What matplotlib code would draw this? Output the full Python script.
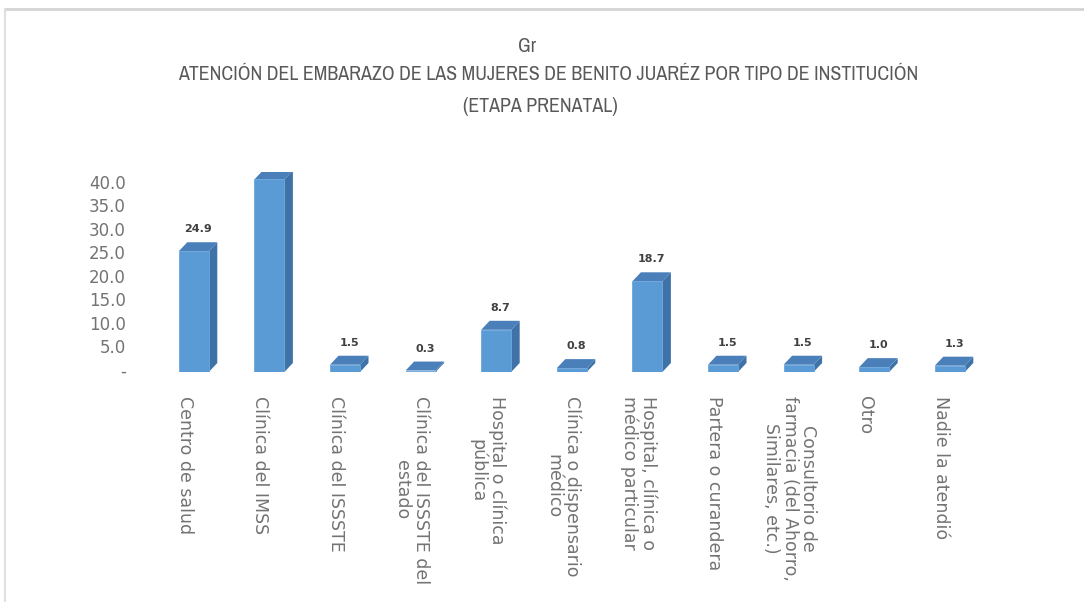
import matplotlib
matplotlib.use("Agg")
import matplotlib.pyplot as plt
from matplotlib import font_manager as fm
from matplotlib.patches import Polygon
from matplotlib.lines import Line2D

# datos (porcentaje)
categorias = [
    "Centro de salud",
    "Clínica del IMSS",
    "Clínica del ISSSTE",
    "Clínica del ISSSTE del\nestado",
    "Hospital o clínica\npública",
    "Clínica o dispensario\nmédico",
    "Hospital, clínica o\nmédico particular",
    "Partera o curandera",
    "Consultorio de\nfarmacia (del Ahorro,\nSimilares, etc.)",
    "Otro",
    "Nadie la atendió",
]
valores = [24.9, 39.7, 1.5, 0.3, 8.7, 0.8, 18.7, 1.5, 1.5, 1.0, 1.3]
ticks_y = [0, 5, 10, 15, 20, 25, 30, 35, 40]

# fuente estrecha (no cursiva) para el titulo, si hay
angosta = None
for f in fm.fontManager.ttflist:
    if ("Narrow" in f.name or "Condensed" in f.name) and f.style == "normal" \
            and f.weight in (400, "normal", "regular"):
        angosta = f.fname
        break
if angosta:
    fp_tit = fm.FontProperties(fname=angosta, size=14.3)
else:
    fp_tit = fm.FontProperties(family="DejaVu Sans", size=11.7)

W, H = 1084, 602
fig = plt.figure(figsize=(W / 100, H / 100), dpi=100)
fig.patch.set_facecolor("white")

# marco gris de la imagen
fig.add_artist(Line2D([5 / W, 1], [1 - 9 / H, 1 - 9 / H], color="#d4d4d4", lw=2))
fig.add_artist(Line2D([5 / W, 5 / W], [0, 1 - 9 / H], color="#e0e0e0", lw=1.5))

# ejes en pixeles
left, bottom = 156, 230
step = 75.6
ppu = 4.85  # pixeles por unidad
width = step * len(valores)
height = 200
rect = [left / W, bottom / H, width / W, height / H]

ax = fig.add_axes(rect)
ax.set_xlim(-0.5, len(valores) - 0.5)
ax.set_ylim(0, height / ppu)
ax.axis("off")

front, side, top = "#5B9BD5", "#3F73A8", "#4A7FBA"
bw = 30 / step
dx = 8.5 / step
dy = 9 / ppu

xs = list(range(len(valores)))
ax.bar(xs, valores, width=bw, color=front, edgecolor="#6aa6dc", linewidth=0.6, zorder=3)
for x, v in zip(xs, valores):
    x1 = x + bw / 2
    x0 = x - bw / 2
    ax.add_patch(Polygon([(x1, 0), (x1 + dx, dy), (x1 + dx, v + dy), (x1, v)],
                         closed=True, facecolor=side, edgecolor="none", zorder=2))
    ax.add_patch(Polygon([(x0, v), (x0 + dx, v + dy), (x1 + dx, v + dy), (x1, v)],
                         closed=True, facecolor=top, edgecolor="none", zorder=2))
    ax.annotate(f"{v:.1f}", xy=(x + dx / 2, v + dy), xytext=(0, 13),
                textcoords="offset pixels", ha="center", va="center",
                fontsize=8, fontweight="bold", color="#404040")

# etiquetas de categoria
for x, c in zip(xs, categorias):
    ax.text(x - 9 / step, -24 / ppu, c, rotation=270, ha="center", va="top",
            multialignment="center", fontsize=12.5, color="#737373",
            linespacing=1.05, clip_on=False)

# eje de valores (pared del fondo)
axt = fig.add_axes(rect, facecolor="none")
axt.set_xlim(-0.5, len(valores) - 0.5)
axt.set_ylim(-2 / 4.71, (height - 2) / 4.71)
axt.set_yticks(ticks_y)
axt.set_yticklabels(["-" if t == 0 else f"{t:.1f}" for t in ticks_y])
axt.tick_params(axis="y", length=0, pad=21.6, labelsize=12, labelcolor="#737373")
axt.set_xticks([])
for s in axt.spines.values():
    s.set_visible(False)

# titulo
fig.text(527 / W, 1 - 47 / H, "Gr", ha="center", va="center",
         fontproperties=fp_tit, color="#595959")
fig.text(548 / W, 1 - 75 / H,
         "ATENCIÓN DEL EMBARAZO DE LAS MUJERES DE BENITO JUARÉZ POR TIPO DE INSTITUCIÓN",
         ha="center", va="center", fontproperties=fp_tit, color="#595959")
fig.text(540 / W, 1 - 107 / H, "(ETAPA PRENATAL)", ha="center", va="center",
         fontproperties=fp_tit, color="#595959")

fig.savefig("out.png", dpi=100)
